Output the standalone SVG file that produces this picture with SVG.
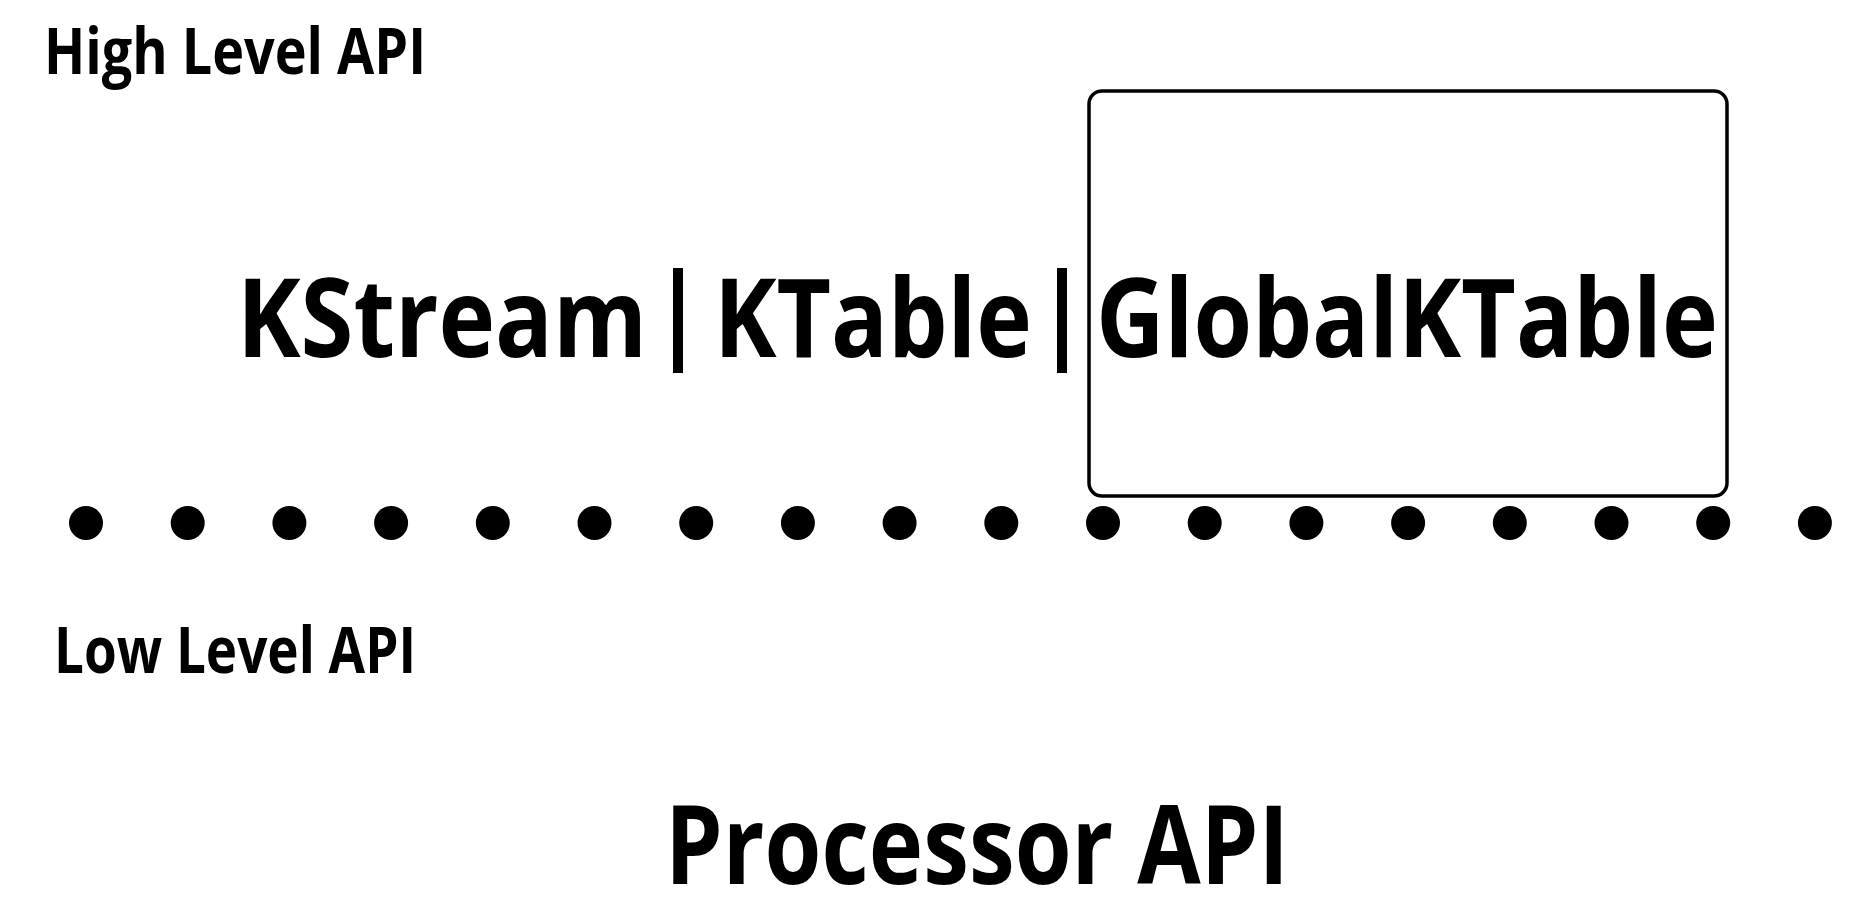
<svg xmlns="http://www.w3.org/2000/svg" width="1860" height="913" viewBox="0 0 1860 913">
  <style>
    .lbl { font-family: "Open Sans", "Liberation Sans", sans-serif; font-weight: 700; fill: #000; }
    .small { font-size: 64px; }
    .big { font-size: 110px; }
    .box { fill: none; stroke: #000; stroke-width: 3.5; }
    .dot { fill: #000; }
  </style>
  <rect width="1860" height="913" fill="#fff"/>

  <!-- layer captions -->
  <g id="high-level-caption">
    <text class="lbl small" x="44" y="74" textLength="382" lengthAdjust="spacingAndGlyphs">High Level API</text>
  </g>
  <g id="low-level-caption">
    <text class="lbl small" x="54" y="673" textLength="362" lengthAdjust="spacingAndGlyphs">Low Level API</text>
  </g>

  <!-- DSL abstractions -->
  <g id="kstream">
    <text class="lbl big" x="237" y="357" textLength="410" lengthAdjust="spacingAndGlyphs">KStream</text>
  </g>
  <g id="sep1">
    <rect x="673" y="268" width="10" height="105" fill="#000"/>
  </g>
  <g id="ktable">
    <text class="lbl big" x="714" y="357" textLength="318" lengthAdjust="spacingAndGlyphs">KTable</text>
  </g>
  <g id="sep2">
    <rect x="1057" y="268" width="10" height="105" fill="#000"/>
  </g>
  <g id="globalktable">
    <rect class="box" x="1089" y="91" width="638" height="405" rx="13" ry="13"/>
    <text class="lbl big" x="1096" y="357" textLength="622" lengthAdjust="spacingAndGlyphs">GlobalKTable</text>
  </g>

  <!-- dotted divider between the two API levels -->
  <g id="divider">
    <circle class="dot" cx="86" cy="523" r="17"/>
    <circle class="dot" cx="187.7" cy="523" r="17"/>
    <circle class="dot" cx="289.4" cy="523" r="17"/>
    <circle class="dot" cx="391.1" cy="523" r="17"/>
    <circle class="dot" cx="492.8" cy="523" r="17"/>
    <circle class="dot" cx="594.5" cy="523" r="17"/>
    <circle class="dot" cx="696.2" cy="523" r="17"/>
    <circle class="dot" cx="797.9" cy="523" r="17"/>
    <circle class="dot" cx="899.6" cy="523" r="17"/>
    <circle class="dot" cx="1001.3" cy="523" r="17"/>
    <circle class="dot" cx="1103" cy="523" r="17"/>
    <circle class="dot" cx="1204.7" cy="523" r="17"/>
    <circle class="dot" cx="1306.4" cy="523" r="17"/>
    <circle class="dot" cx="1408.1" cy="523" r="17"/>
    <circle class="dot" cx="1509.8" cy="523" r="17"/>
    <circle class="dot" cx="1611.5" cy="523" r="17"/>
    <circle class="dot" cx="1713.2" cy="523" r="17"/>
    <circle class="dot" cx="1814.9" cy="523" r="17"/>
  </g>

  <g id="processor-api">
    <text class="lbl big" x="665" y="884" font-size="112" textLength="624" lengthAdjust="spacingAndGlyphs">Processor API</text>
  </g>

  <g id="connectors"></g>
</svg>
